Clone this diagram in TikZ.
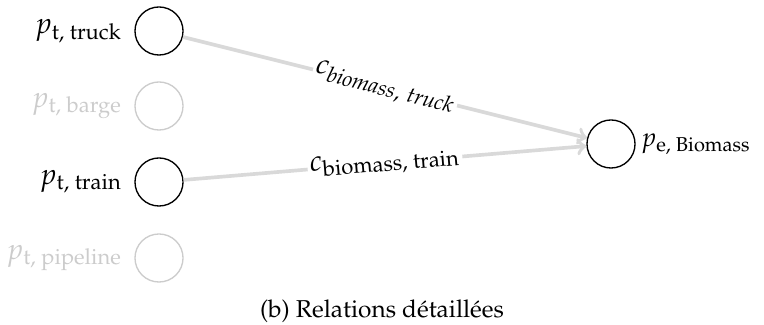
\documentclass[tikz,border=0pt]{standalone}
\usepackage[T1]{fontenc}
\usepackage{amsmath}
\usepackage{mathpazo}
\usepackage{tikz}

\begin{document}
\begin{tikzpicture}[x=0.41pt,y=-0.41pt]
% Styles for the detailed relations
\tikzset{
  state/.style={circle,draw,line width=0.55pt,minimum size=19.7pt,inner sep=0pt},
  faded/.style={draw=gray!40},
  tag/.style={label distance=1.5pt,font=\large},
  link/.style={->,draw=gray!30,line width=1.5pt},
  cost/.style={midway,sloped,fill=white,text=black,inner sep=1pt,font=\large}
}
\useasboundingbox (0,0) rectangle (764,325);

% Transport modes
\node[state,label={[tag]left:$p_{\text{t, truck}}$}] (truck) at (159,31) {};
\node[state,faded,label={[tag,text=gray!40]left:$p_{\text{t, barge}}$}] (barge) at (159,106) {};
\node[state,label={[tag]left:$p_{\text{t, train}}$}] (train) at (159,182) {};
\node[state,faded,label={[tag,text=gray!40]left:$p_{\text{t, pipeline}}$}] (pipeline) at (159,258) {};

% Energy carrier
\node[state,label={[tag,label distance=0pt,inner sep=2pt,font=\fontsize{10.8}{13}\selectfont]right:$p_{\text{e, Biomass}}$}] (biomass) at (611,144) {};

% Cost relations
\draw[link] (truck) -- node[cost] {$c_{\mathit{biomass,\ truck}}$} (biomass);
\draw[link] (train) -- node[cost] {$c_{\text{biomass, train}}$} (biomass);

% Caption
\node (caption) at (382,311) {(b) Relations détaillées};
\end{tikzpicture}
\end{document}
